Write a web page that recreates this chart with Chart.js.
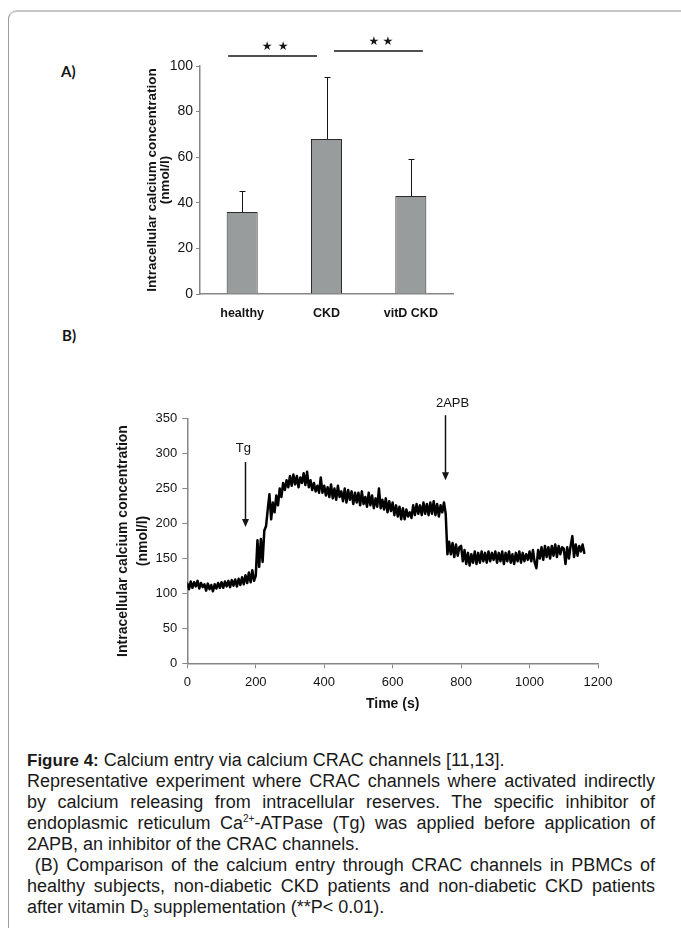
<!DOCTYPE html>
<html>
<head>
<meta charset="utf-8">
<script src="https://cdn.jsdelivr.net/npm/chart.js@4.4.1/dist/chart.umd.min.js"></script>
<style>
html, body { margin: 0; padding: 0; background: #fff; }
body { width: 681px; height: 928px; position: relative; overflow: hidden; font-family: 'Liberation Sans', Arial, sans-serif; color: #141414; }
.frame { position: absolute; left: 8px; top: 10px; width: 720px; height: 960px; border-top: 2px solid #c6c6c6; border-left: 1.5px solid #9c9c9c; border-radius: 9px 0 0 0; }
.panel { position: absolute; font: bold 15px Lato, 'Open Sans', sans-serif; }
canvas { position: absolute; left: 0; }
.cap { position: absolute; left: 27px; width: 628px; font: 18px 'Liberation Sans Narrow', 'Liberation Sans', sans-serif; line-height: 21px; color: #1a1a1a; }
.cap.j { text-align: justify; text-align-last: justify; }
.cap b { font-family: 'Liberation Sans', Arial, sans-serif; font-size: 17px; }
.cap sup, .cap sub { font-size: 10px; vertical-align: 0; position: relative; }
.cap sup { top: -7px; }
.cap sub { top: 4px; }
</style>
</head>
<body>
<div class="frame"></div>
<div class="panel" style="left:61px;top:62px">A)</div>
<div class="panel" style="left:62px;top:326px">B)</div>
<canvas id="chartA" width="681" height="330" style="top:0"></canvas>
<canvas id="chartB" width="681" height="380" style="top:340px"></canvas>

<div class="cap" style="top:750px"><b>Figure 4:</b> Calcium entry via calcium CRAC channels [11,13].</div>
<div class="cap j" style="top:771px">Representative experiment where CRAC channels where activated indirectly</div>
<div class="cap j" style="top:792px">by calcium releasing from intracellular reserves. The specific inhibitor of</div>
<div class="cap j" style="top:813px">endoplasmic reticulum Ca<sup>2+</sup>-ATPase (Tg) was applied before application of</div>
<div class="cap" style="top:834px">2APB, an inhibitor of the CRAC channels.</div>
<div class="cap j" style="top:855px">&nbsp;(B) Comparison of the calcium entry through CRAC channels in PBMCs of</div>
<div class="cap j" style="top:876px">healthy subjects, non-diabetic CKD patients and non-diabetic CKD patients</div>
<div class="cap" style="top:897px">after vitamin D<sub>3</sub> supplementation (**P&lt; 0.01).</div>

<script>
// panel A: mean and SD of the calcium concentration per group
const groups = ['healthy', 'CKD', 'vitD CKD']
const meanCa = [36, 68, 43]
const sdCa = [9, 27, 16]
const yTicksA = [0, 20, 40, 60, 80, 100]

// panel B: representative trace, time (s) and calcium (nmol/l)
const traceTime = [
    0, 5, 10, 15, 20, 25, 30, 35, 40, 45, 50, 55, 60, 65, 70, 75, 80, 85, 90, 95,
    100, 105, 110, 115, 120, 125, 130, 135, 140, 145, 150, 155, 160, 165, 170, 175, 180, 185, 190, 195,
    200, 205, 210, 215, 220, 225, 230, 235, 240, 245, 250, 255, 260, 265, 270, 275, 280, 285, 290, 295,
    300, 305, 310, 315, 320, 325, 330, 335, 340, 345, 350, 355, 360, 365, 370, 375, 380, 385, 390, 395,
    400, 405, 410, 415, 420, 425, 430, 435, 440, 445, 450, 455, 460, 465, 470, 475, 480, 485, 490, 495,
    500, 505, 510, 515, 520, 525, 530, 535, 540, 545, 550, 555, 560, 565, 570, 575, 580, 585, 590, 595,
    600, 605, 610, 615, 620, 625, 630, 635, 640, 645, 650, 655, 660, 665, 670, 675, 680, 685, 690, 695,
    700, 705, 710, 715, 720, 725, 730, 735, 740, 745, 750, 755, 760, 765, 770, 775, 780, 785, 790, 795,
    800, 805, 810, 815, 820, 825, 830, 835, 840, 845, 850, 855, 860, 865, 870, 875, 880, 885, 890, 895,
    900, 905, 910, 915, 920, 925, 930, 935, 940, 945, 950, 955, 960, 965, 970, 975, 980, 985, 990, 995,
    1000, 1005, 1010, 1015, 1020, 1025, 1030, 1035, 1040, 1045, 1050, 1055, 1060, 1065, 1070, 1075, 1080, 1085, 1090, 1095,
    1100, 1105, 1110, 1115, 1120, 1125, 1130, 1135, 1140, 1145, 1150, 1155, 1160
]
const traceCa = [
    114, 106, 117, 108, 116, 110, 118, 107, 115, 109, 113, 104, 114, 106, 112, 103, 113, 107, 115, 108,
    116, 108, 117, 110, 118, 109, 119, 111, 120, 110, 121, 112, 123, 113, 126, 115, 130, 116, 133, 118,
    125, 176, 138, 178, 145, 190, 196, 220, 242, 206, 230, 216, 240, 226, 250, 238, 258, 248, 262, 252,
    268, 254, 270, 256, 268, 252, 266, 258, 272, 255, 274, 252, 262, 248, 258, 246, 254, 244, 266, 244,
    254, 240, 252, 238, 256, 236, 250, 234, 254, 238, 246, 232, 250, 230, 248, 234, 246, 228, 244, 230,
    244, 226, 246, 228, 238, 224, 244, 226, 240, 222, 236, 224, 250, 222, 234, 220, 236, 216, 232, 218,
    230, 212, 226, 210, 224, 206, 222, 206, 220, 210, 216, 208, 226, 212, 228, 214, 226, 212, 230, 214,
    228, 212, 230, 214, 232, 212, 228, 210, 226, 216, 230, 214, 156, 174, 156, 172, 152, 170, 154, 166,
    168, 146, 162, 142, 158, 140, 156, 144, 160, 142, 158, 144, 160, 146, 158, 144, 160, 146, 158, 148,
    160, 144, 158, 146, 160, 142, 158, 146, 160, 144, 156, 142, 158, 146, 160, 144, 158, 146, 156, 148,
    160, 146, 162, 144, 136, 162, 150, 166, 148, 168, 152, 166, 150, 168, 154, 170, 152, 168, 156, 166,
    164, 142, 166, 150, 168, 182, 152, 170, 154, 168, 160, 170, 158
]
const xTicksB = [0, 200, 400, 600, 800, 1000, 1200]
const yTicksB = [0, 50, 100, 150, 200, 250, 300, 350]

// drug additions marked with arrows on panel B
const markers = [
    {text: 'Tg', time: 170, from: 288, to: 195, textTime: 164, textCa: 308},
    {text: '2APB', time: 753, from: 355, to: 262, textTime: 775, textCa: 372}
]

const narrow = "'Liberation Sans Narrow', 'Liberation Sans', sans-serif"
const regular = "'Liberation Sans', Arial, sans-serif"
const axisGrey = '#868686'
const ink = '#141414'

const errorBars = {
    id: 'errorBars',
    afterDatasetsDraw(chart) {
        const {ctx, scales: {x, y}, chartArea} = chart
        const bars = chart.getDatasetMeta(0).data
        ctx.save()
        ctx.strokeStyle = ink
        ctx.lineWidth = 1
        bars.forEach((bar, i) => {
            const px = Math.round(bar.x) + 0.5
            const top = Math.round(y.getPixelForValue(meanCa[i] + sdCa[i])) + 0.5
            ctx.beginPath()
            ctx.moveTo(px, bar.y)
            ctx.lineTo(px, top)
            ctx.moveTo(px - 3, top)
            ctx.lineTo(px + 3, top)
            ctx.stroke()
        })

        // significance brackets (**) between neighbouring groups
        const c = groups.map((g, i) => x.getPixelForValue(i))
        const sig = [
            {x1: c[0] - 14, x2: c[1] - 9.5, y: chartArea.top - 10, gap: 16},
            {x1: c[1] + 7.5, x2: c[2] + 12, y: chartArea.top - 15, gap: 14}
        ]
        ctx.lineWidth = 1.5
        ctx.fillStyle = ink
        ctx.font = "12px 'DejaVu Sans'"
        ctx.textAlign = 'center'
        ctx.textBaseline = 'middle'
        sig.forEach(s => {
            ctx.beginPath()
            ctx.moveTo(s.x1, s.y)
            ctx.lineTo(s.x2, s.y)
            ctx.stroke()
            const mid = (s.x1 + s.x2) / 2 + 2.5
            ctx.fillText('★', mid - s.gap / 2, s.y - 9)
            ctx.fillText('★', mid + s.gap / 2, s.y - 9)
        })
        ctx.restore()
    }
}

const arrows = {
    id: 'arrows',
    afterDatasetsDraw(chart) {
        const {ctx, scales: {x, y}} = chart
        ctx.save()
        ctx.strokeStyle = ink
        ctx.fillStyle = ink
        ctx.lineWidth = 1.5
        ctx.font = '13px ' + regular
        ctx.textAlign = 'center'
        ctx.textBaseline = 'middle'
        markers.forEach(m => {
            const px = Math.round(x.getPixelForValue(m.time)) + 0.5
            const y1 = y.getPixelForValue(m.from)
            const y2 = y.getPixelForValue(m.to)
            ctx.beginPath()
            ctx.moveTo(px, y1)
            ctx.lineTo(px, y2 - 6)
            ctx.stroke()
            ctx.beginPath()
            ctx.moveTo(px - 3.5, y2 - 8)
            ctx.lineTo(px + 3.5, y2 - 8)
            ctx.lineTo(px, y2)
            ctx.closePath()
            ctx.fill()
            ctx.fillText(m.text, x.getPixelForValue(m.textTime), y.getPixelForValue(m.textCa))
        })
        ctx.restore()
    }
}

new Chart(document.querySelector('#chartA'), {
    type: 'bar',
    data: {
        labels: groups,
        datasets: [{
            data: meanCa,
            backgroundColor: '#999c9d',
            borderColor: '#2a2a2a',
            borderWidth: 1,
            barPercentage: 0.368,
            categoryPercentage: 1
        }]
    },
    options: {
        responsive: false,
        animation: false,
        devicePixelRatio: 1,
        layout: {padding: {left: 145.5, right: 228, top: 66, bottom: 0}},
        plugins: {legend: {display: false}, tooltip: {enabled: false}},
        scales: {
            x: {
                grid: {display: false, drawTicks: false},
                border: {color: axisGrey, width: 1.5},
                ticks: {padding: 12, color: ink, font: {family: narrow, size: 12.5, weight: 'bold'}},
                afterFit: s => { s.height = 36 }
            },
            y: {
                min: 0,
                max: 100,
                afterBuildTicks: s => { s.ticks = yTicksA.map(v => ({value: v})) },
                grid: {drawOnChartArea: false, tickLength: 4, color: axisGrey},
                border: {color: axisGrey, width: 1.5},
                ticks: {padding: 3, color: ink, font: {family: narrow, size: 14}},
                title: {
                    display: true,
                    text: ['Intracellular calcium concentration', '(nmol/l)'],
                    color: ink,
                    padding: 0,
                    font: {family: regular, size: 13.5, weight: 'bold', lineHeight: '13px'}
                },
                afterFit: s => { s.width = 54.5 }
            }
        }
    },
    plugins: [errorBars]
})

new Chart(document.querySelector('#chartB'), {
    type: 'line',
    data: {
        datasets: [{
            data: traceTime.map((t, i) => ({x: t, y: traceCa[i]})),
            borderColor: '#000',
            borderWidth: 2.5,
            borderJoinStyle: 'round',
            borderCapStyle: 'round',
            pointRadius: 0,
            tension: 0
        }]
    },
    options: {
        responsive: false,
        animation: false,
        devicePixelRatio: 1,
        layout: {padding: {left: 113, right: 83, top: 78.7, bottom: 0}},
        plugins: {legend: {display: false}, tooltip: {enabled: false}},
        scales: {
            x: {
                type: 'linear',
                min: 0,
                max: 1200,
                afterBuildTicks: s => { s.ticks = xTicksB.map(v => ({value: v})) },
                grid: {drawOnChartArea: false, tickLength: 5, color: axisGrey},
                border: {color: axisGrey, width: 1.5},
                ticks: {padding: 6, color: ink, font: {family: regular, size: 13}, callback: v => String(v)},
                title: {
                    display: true,
                    text: 'Time (s)',
                    color: ink,
                    padding: {top: 0, bottom: 7.6},
                    font: {family: regular, size: 14, weight: 'bold'}
                },
                afterFit: s => { s.height = 56.7 }
            },
            y: {
                min: 0,
                max: 350,
                afterBuildTicks: s => { s.ticks = yTicksB.map(v => ({value: v})) },
                grid: {drawOnChartArea: false, tickLength: 5, color: axisGrey},
                border: {color: axisGrey, width: 1.5},
                ticks: {padding: 5, color: ink, font: {family: regular, size: 13}, callback: v => String(v)},
                title: {
                    display: true,
                    text: ['Intracellular calcium concentration', '(nmol/l)'],
                    color: ink,
                    padding: 0,
                    font: {family: regular, size: 14, weight: 'bold', lineHeight: '20px'}
                },
                afterFit: s => { s.width = 74.3 }
            }
        }
    },
    plugins: [arrows]
})
</script>
</body>
</html>
